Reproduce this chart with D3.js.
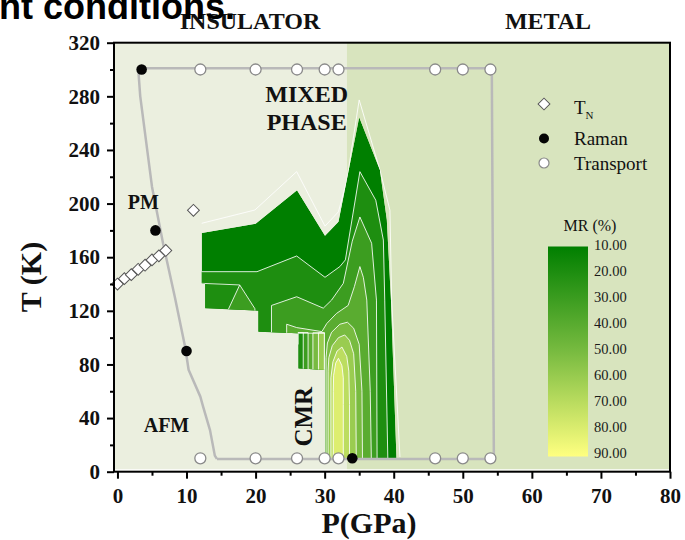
<!DOCTYPE html>
<html>
<head>
<meta charset="utf-8">
<script src="https://cdn.jsdelivr.net/npm/d3@7"></script>
<style>
  body { margin: 0; background: #fff; }
  text { font-family: 'Liberation Serif', 'Times New Roman', serif; }
</style>
</head>
<body>
<script>
// ---------------- data ----------------
// phase split between insulator and metal (GPa)
const phaseSplit = 33.2;

// axis ticks
const xTicks = [0, 10, 20, 30, 40, 50, 60, 70, 80];
const xMinor = [5, 15, 25, 35, 45, 55, 65, 75];
const yTicks = [0, 40, 80, 120, 160, 200, 240, 280, 320];
const yMinor = [20, 60, 100, 140, 180, 220, 260, 300];

// transport points, measured at 300 K and 10 K
const transportP = [12, 20, 26, 30, 32, 46, 50, 54];
const transportT = [300, 10];

// Raman points
const ramanP = [3.5, 5.5, 10, 34];
const ramanT = [300, 180, 90, 10];

// T_N points
const tnP = [0, 1, 2, 3, 4, 5, 6, 7, 11];
const tnT = [140, 144, 147, 151, 154, 158, 161, 165, 195];

// grey phase boundary (P, T)
const boundary = [[14.4, 9.5], [54.5, 9.5], [54.2, 301], [3.0, 301], [3.3, 280], [5.0, 212.6],
  [6.6, 170.4], [8.3, 130.5], [9.8, 93], [10.3, 76], [12.0, 56], [12.4, 48.5], [13.4, 31],
  [14.1, 12], [14.4, 9.5]];

// MR map: area where data exists (MR >= 10)
const mrDomain = [[12.2, 178], [20, 185], [26, 210], [30.05, 176], [32, 186.5], [35, 264.4],
  [38, 225], [39, 188], [39.6, 128], [40.4, 10], [30.05, 10], [30.05, 76], [26.2, 77],
  [26.2, 103.3], [20.4, 104.4], [20.4, 120.1], [12.7, 121.9], [12.7, 140], [12.2, 140.5]];

// outermost white contour above the filled map
const mrOuterLine = [[12.2, 185.3], [19.9, 195.2], [25.95, 223.8], [30.05, 183.2], [32, 193.9],
  [33.2, 217], [35, 277.3], [38, 225], [39.45, 195], [39.7, 128], [40.9, 11]];

// contour levels and their regions (rings of P, T points)
const mrLevels = [20, 30, 40, 50, 60, 70, 80];
const mr20 = [
  [[10, 149.2], [20.2, 149.2], [25.95, 160.9], [30.05, 145], [32.2, 153], [33, 158], [35.1, 223.8],
   [37.4, 202.5], [38.5, 172.8], [38.7, 128], [39.2, -5], [10, -5]]
];
const mr30 = [
  [[16.05, 110], [16.05, 121], [17.7, 139.3], [19.9, 121.6], [19.9, 110]],
  [[22.3, 95], [22.3, 124], [25.95, 130.5], [29.8, 122], [31, 128], [32.7, 140.5], [34, 172],
   [35.1, 190], [36.8, 170.4], [37.5, 128], [37.6, -5], [29.9, -5], [29.9, 70], [26.9, 70],
   [26.9, 103.8], [26.15, 103.8], [26.15, 95]]
];
const mr40 = [
  [[36.8, -5], [36.6, 60], [36.1, 128], [35.6, 145], [35.1, 153], [34.3, 138], [33.4, 124],
   [31.7, 118], [30.3, 110.5], [29.6, 104.5], [25.95, 107.5], [24.5, 110], [24.5, 95],
   [26.15, 95], [26.15, 103.8], [27.6, 103.8], [27.6, 70], [29.9, 70], [29.9, -5]]
];
const mr50 = [
  [[35.5, -5], [35.4, 60], [35.0, 95], [34.2, 107], [33.3, 111.5], [32.2, 110], [31, 104],
   [30.4, 96], [30.2, 85], [30.2, -5]],
  [[28.3, 70], [28.3, 103.6], [29.95, 103.6], [29.95, 70]]
];
const mr60 = [
  [[34.6, -5], [34.5, 60], [34.2, 88], [33.6, 98], [32.9, 102], [32, 100], [31.1, 94],
   [30.6, 85], [30.5, 75], [30.5, -5]],
  [[29.1, 70], [29.1, 103.6], [29.95, 103.6], [29.95, 70]]
];
const mr70 = [
  [[33.6, -5], [33.6, 50], [33.5, 75], [33.2, 86], [32.5, 93], [31.8, 90], [31.2, 82],
   [30.9, 70], [30.9, -5]]
];
const mr80 = [
  [[32.7, -5], [32.7, 50], [32.7, 70], [32.5, 79], [32.0, 84.6], [31.6, 81], [31.3, 72],
   [31.25, 60], [31.25, -5]]
];
// seams between data patches
const mrSeams = [[[12.2, 140.5], [17.7, 139.3]], [[26.2, 103.3], [30.05, 103.3]]];

// colour bar values
const cbValues = [10, 20, 30, 40, 50, 60, 70, 80, 90];

// ---------------- layout ----------------
let svgWidth = 685;
let svgHeight = 540;
let margin = { top: 42.7, right: 15, bottom: 68.3, left: 114 };
let chartWidth = svgWidth - margin.left - margin.right;
let chartHeight = svgHeight - margin.top - margin.bottom;

let svg = d3.select('body').append('svg')
  .attr('width', svgWidth)
  .attr('height', svgHeight);
let defs = svg.append('defs');

let chartGroup = svg.append('g')
  .attr('transform', `translate(${margin.left}, ${margin.top})`);

let xScale = d3.scaleLinear().domain([-0.5, 80]).range([0, chartWidth]);
let yScale = d3.scaleLinear().domain([0, 320]).range([chartHeight, 0]);

let mrColor = d3.scaleLinear().domain([10, 50, 90]).range(['#007f00', '#78bb40', '#ffff80']);

let openLine = d3.line().x(d => xScale(d[0])).y(d => yScale(d[1]));
let closedLine = d3.line().x(d => xScale(d[0])).y(d => yScale(d[1])).curve(d3.curveLinearClosed);

// ---------------- background phases ----------------
chartGroup.append('rect')
  .attr('x', xScale(-0.5)).attr('y', 0)
  .attr('width', xScale(phaseSplit) - xScale(-0.5)).attr('height', chartHeight)
  .attr('fill', '#ebefdf');
chartGroup.append('rect')
  .attr('x', xScale(phaseSplit)).attr('y', 0)
  .attr('width', xScale(80) - xScale(phaseSplit)).attr('height', chartHeight)
  .attr('fill', '#d8e4be');
chartGroup.append('line')
  .attr('x1', xScale(-0.5)).attr('x2', xScale(80))
  .attr('y1', yScale(1.3)).attr('y2', yScale(1.3))
  .attr('stroke', '#fff').attr('stroke-width', 1.5);

// ---------------- MR contour map ----------------
defs.append('clipPath').attr('id', 'mrClip')
  .append('path').attr('d', closedLine(mrDomain));

chartGroup.append('path')
  .attr('d', openLine(mrOuterLine))
  .attr('fill', 'none')
  .attr('stroke', '#fff')
  .attr('stroke-opacity', 0.85)
  .attr('stroke-width', 1);

let mapGroup = chartGroup.append('g').attr('clip-path', 'url(#mrClip)');
mapGroup.append('path')
  .attr('d', closedLine(mrDomain))
  .attr('fill', mrColor(10));

let levelTable = mrLevels.map((lv, i) => ({ level: lv, rings: [mr20, mr30, mr40, mr50, mr60, mr70, mr80][i] }));
levelTable.forEach(row => {
  mapGroup.selectAll(null)
    .data(row.rings)
    .enter()
    .append('path')
    .attr('d', d => closedLine(d))
    .attr('fill', mrColor(row.level))
    .attr('stroke', '#fff')
    .attr('stroke-opacity', 0.85)
    .attr('stroke-width', 1);
});
mapGroup.selectAll('.seam')
  .data(mrSeams)
  .enter()
  .append('path')
  .classed('seam', true)
  .attr('d', d => openLine(d))
  .attr('fill', 'none')
  .attr('stroke', '#fff')
  .attr('stroke-opacity', 0.8)
  .attr('stroke-width', 1);

// ---------------- phase boundary ----------------
chartGroup.append('path')
  .attr('d', openLine(boundary))
  .attr('fill', 'none')
  .attr('stroke', '#b9b9b9')
  .attr('stroke-width', 2.5)
  .attr('stroke-linejoin', 'round');

// ---------------- markers ----------------
let transportPts = [];
transportT.forEach(t => transportP.forEach(p => transportPts.push([p, t])));
chartGroup.selectAll('.transport')
  .data(transportPts)
  .enter()
  .append('circle')
  .classed('transport', true)
  .attr('cx', d => xScale(d[0]))
  .attr('cy', d => yScale(d[1]))
  .attr('r', 5.5)
  .attr('fill', '#fff')
  .attr('stroke', '#8a8a8a')
  .attr('stroke-width', 1.3);

chartGroup.selectAll('.raman')
  .data(ramanP.map((p, i) => [p, ramanT[i]]))
  .enter()
  .append('circle')
  .classed('raman', true)
  .attr('cx', d => xScale(d[0]))
  .attr('cy', d => yScale(d[1]))
  .attr('r', 5.3)
  .attr('fill', '#050505');

let diamond = d3.symbol().type(d3.symbolSquare).size(70);
chartGroup.selectAll('.tn')
  .data(tnP.map((p, i) => [p, tnT[i]]))
  .enter()
  .append('path')
  .classed('tn', true)
  .attr('d', diamond)
  .attr('transform', d => `translate(${xScale(d[0])}, ${yScale(d[1])}) rotate(45)`)
  .attr('fill', '#fff')
  .attr('stroke', '#555')
  .attr('stroke-width', 1);

// ---------------- labels inside the plot ----------------
function boldLabel(txt, p, t, size) {
  return chartGroup.append('text')
    .attr('x', xScale(p)).attr('y', yScale(t))
    .attr('text-anchor', 'middle')
    .style('font-weight', 'bold')
    .style('font-size', size + 'px')
    .attr('fill', '#111')
    .text(txt);
}
boldLabel('PM', 3.75, 196, 20);
boldLabel('AFM', 7.1, 29.7, 20);
boldLabel('MIXED', 27.4, 276, 24);
boldLabel('PHASE', 27.4, 255, 24);
chartGroup.append('text')
  .attr('transform', `translate(${xScale(28.2)}, ${yScale(41)}) rotate(-90)`)
  .attr('text-anchor', 'middle')
  .style('font-weight', 'bold')
  .style('font-size', '25px')
  .attr('fill', '#111')
  .text('CMR');

// ---------------- legend ----------------
let legend = svg.append('g');
legend.append('path')
  .attr('d', diamond)
  .attr('transform', 'translate(544, 104) rotate(45)')
  .attr('fill', '#fff').attr('stroke', '#555');
legend.append('circle').attr('cx', 544).attr('cy', 138.5).attr('r', 5).attr('fill', '#050505');
legend.append('circle').attr('cx', 544).attr('cy', 163).attr('r', 5)
  .attr('fill', '#fff').attr('stroke', '#8a8a8a').attr('stroke-width', 1.2);
let tnText = legend.append('text').attr('x', 574).attr('y', 114).style('font-size', '19px').attr('fill', '#111');
tnText.append('tspan').text('T');
tnText.append('tspan').attr('dy', 5).style('font-size', '11px').text('N');
legend.append('text').attr('x', 574).attr('y', 144.5).style('font-size', '19px').attr('fill', '#111').text('Raman');
legend.append('text').attr('x', 574).attr('y', 169.5).style('font-size', '19px').attr('fill', '#111').text('Transport');

// ---------------- colour bar ----------------
let grad = defs.append('linearGradient').attr('id', 'mrGrad')
  .attr('x1', 0).attr('y1', 0).attr('x2', 0).attr('y2', 1);
grad.selectAll('stop')
  .data(cbValues)
  .enter()
  .append('stop')
  .attr('offset', d => ((d - 10) / 80 * 100) + '%')
  .attr('stop-color', d => mrColor(d));

let cbScale = d3.scaleLinear().domain([10, 90]).range([245, 453]);
svg.append('rect')
  .attr('x', 548).attr('y', 246.5)
  .attr('width', 40).attr('height', 210)
  .attr('fill', 'url(#mrGrad)');
svg.append('text')
  .attr('x', 590).attr('y', 231)
  .attr('text-anchor', 'middle')
  .style('font-size', '16px')
  .attr('fill', '#111')
  .text('MR (%)');
svg.selectAll('.cbLabel')
  .data(cbValues)
  .enter()
  .append('text')
  .classed('cbLabel', true)
  .attr('x', 594)
  .attr('y', d => cbScale(d))
  .attr('dy', '0.35em')
  .style('font-size', '14.5px')
  .attr('fill', '#1a1a1a')
  .text(d => d3.format('.2f')(d));

// ---------------- axes ----------------
function styleAxis(g) {
  g.select('.domain').remove();
  g.selectAll('line').attr('stroke', '#000').attr('stroke-width', 2);
  g.selectAll('text')
    .style('font-family', "'Liberation Serif', 'Times New Roman', serif")
    .style('font-size', '21px')
    .style('font-weight', 'bold')
    .attr('fill', '#111');
}
chartGroup.append('g')
  .call(d3.axisLeft(yScale).tickValues(yTicks).tickSize(7).tickPadding(7))
  .call(styleAxis);
chartGroup.append('g')
  .call(d3.axisLeft(yScale).tickValues(yMinor).tickSize(4).tickFormat(''))
  .call(styleAxis);
chartGroup.append('g')
  .attr('transform', `translate(0, ${chartHeight})`)
  .call(d3.axisBottom(xScale).tickValues(xTicks).tickSize(7).tickPadding(9))
  .call(styleAxis);
chartGroup.append('g')
  .attr('transform', `translate(0, ${chartHeight})`)
  .call(d3.axisBottom(xScale).tickValues(xMinor).tickSize(4).tickFormat(''))
  .call(styleAxis);

// frame
chartGroup.append('rect')
  .attr('x', 0).attr('y', 0)
  .attr('width', chartWidth).attr('height', chartHeight)
  .attr('fill', 'none')
  .attr('stroke', '#000')
  .attr('stroke-width', 2);

// axis titles
svg.append('text')
  .attr('x', 369).attr('y', 533)
  .attr('text-anchor', 'middle')
  .style('font-size', '30px').style('font-weight', 'bold')
  .attr('fill', '#111')
  .text('P(GPa)');
svg.append('text')
  .attr('transform', 'translate(41, 277) rotate(-90)')
  .attr('text-anchor', 'middle')
  .style('font-size', '30px').style('font-weight', 'bold')
  .attr('fill', '#111')
  .text('T (K)');

// phase names above the frame
svg.append('text')
  .attr('x', 250).attr('y', 29)
  .attr('text-anchor', 'middle')
  .style('font-size', '24px').style('font-weight', 'bold')
  .attr('fill', '#111')
  .text('INSULATOR');
svg.append('text')
  .attr('x', 548).attr('y', 29)
  .attr('text-anchor', 'middle')
  .style('font-size', '24px').style('font-weight', 'bold')
  .attr('fill', '#111')
  .text('METAL');

// cut-off slide title
svg.append('text')
  .attr('x', -1).attr('y', 19)
  .style('font-family', "'Liberation Sans', Arial, sans-serif")
  .style('font-size', '36px').style('font-weight', 'bold')
  .attr('fill', '#000')
  .text('nt conditions.');
</script>
</body>
</html>
